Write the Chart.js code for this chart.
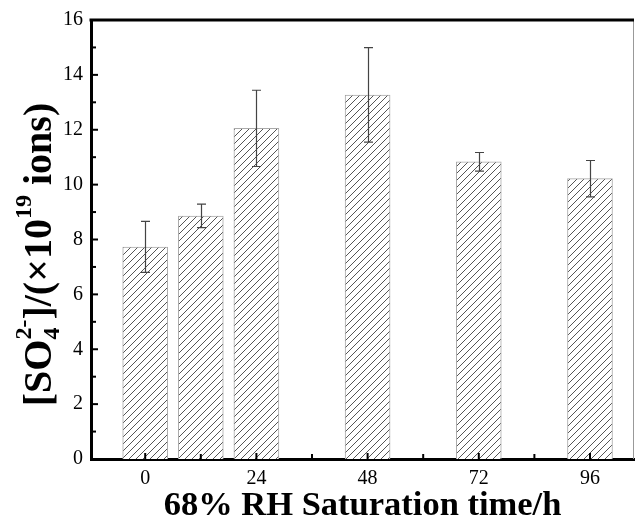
<!DOCTYPE html>
<html>
<head>
<meta charset="utf-8">
<script src="https://cdn.jsdelivr.net/npm/chart.js@4.4.1/dist/chart.umd.min.js"></script>
<style>
  html, body { margin: 0; padding: 0; background: #fff; }
</style>
</head>
<body>
<canvas id="chart" width="635" height="521"></canvas>
<script>
// saturation time (h) and sulfate amount (x10^19 ions)
const hours = [0, 12, 24, 48, 72, 96];
const sulfate = [7.72, 8.85, 12.05, 13.26, 10.83, 10.22];
const errLow = [6.80, 8.43, 10.66, 11.55, 10.49, 9.55];
const errHigh = [8.66, 9.29, 13.44, 14.99, 11.17, 10.88];
const xTickValues = [0, 12, 24, 36, 48, 60, 72, 84, 96];
const xLabelValues = [0, 24, 48, 72, 96];
const yTickValues = [0, 1, 2, 3, 4, 5, 6, 7, 8, 9, 10, 11, 12, 13, 14, 15, 16];
const yLabelValues = [0, 2, 4, 6, 8, 10, 12, 14, 16];

const SERIF = '"Liberation Serif", "Times New Roman", serif';

function makeHatch() {
    const size = 7;
    const p = document.createElement('canvas');
    p.width = size;
    p.height = size;
    const g = p.getContext('2d');
    g.fillStyle = '#fff';
    g.fillRect(0, 0, size, size);
    g.strokeStyle = '#555';
    g.lineWidth = 1;
    g.beginPath();
    g.moveTo(-1, size + 1);
    g.lineTo(size + 1, -1);
    g.moveTo(-1, 1);
    g.lineTo(1, -1);
    g.moveTo(size - 1, size + 1);
    g.lineTo(size + 1, size - 1);
    g.stroke();
    return document.getElementById('chart').getContext('2d').createPattern(p, 'repeat');
}

// error bars, inside ticks and the top/right frame
const extras = {
    id: 'extras',
    afterDatasetsDraw(chart) {
        const ctx = chart.ctx;
        const x = chart.scales.x, y = chart.scales.y;
        const area = chart.chartArea;
        ctx.save();

        ctx.strokeStyle = '#444';
        ctx.lineWidth = 1.2;
        hours.forEach((h, i) => {
            const px = Math.round(x.getPixelForValue(h)) + 0.5;
            const top = y.getPixelForValue(errHigh[i]);
            const bot = y.getPixelForValue(errLow[i]);
            ctx.beginPath();
            ctx.moveTo(px, top);
            ctx.lineTo(px, bot);
            ctx.moveTo(px - 4.5, top);
            ctx.lineTo(px + 4.5, top);
            ctx.moveTo(px - 4.5, bot);
            ctx.lineTo(px + 4.5, bot);
            ctx.stroke();
        });

        ctx.strokeStyle = '#000';
        ctx.lineWidth = 2;
        yTickValues.forEach(v => {
            const py = y.getPixelForValue(v);
            const len = yLabelValues.includes(v) ? 7 : 5;
            ctx.beginPath();
            ctx.moveTo(area.left, py);
            ctx.lineTo(area.left + len, py);
            ctx.stroke();
        });
        xTickValues.forEach(v => {
            const px = x.getPixelForValue(v);
            const len = xLabelValues.includes(v) ? 6 : 5;
            ctx.beginPath();
            ctx.moveTo(px, area.bottom);
            ctx.lineTo(px, area.bottom - len);
            ctx.stroke();
        });

        ctx.strokeStyle = '#999';
        ctx.lineWidth = 1;
        ctx.beginPath();
        ctx.moveTo(area.right - 0.5, area.top);
        ctx.lineTo(area.right - 0.5, area.bottom);
        ctx.stroke();

        ctx.strokeStyle = '#000';
        ctx.lineWidth = 3;
        ctx.beginPath();
        ctx.moveTo(area.left - 1.5, area.top);
        ctx.lineTo(area.right, area.top);
        ctx.stroke();
        ctx.restore();
    },
    afterDraw(chart) {
        // y title with sub- and superscripts
        const ctx = chart.ctx;
        const area = chart.chartArea;
        const big = 'bold 40px ' + SERIF;
        const small = 'bold 24px ' + SERIF;
        const parts = [
            { t: '[SO', f: big, dy: 0 },
            { t: '4', f: small, dy: 8, stack: true },
            { t: '2-', f: small, dy: -20 },
            { t: ']/(\u00d710', f: big, dy: 0 },
            { t: '19', f: small, dy: -20 },
            { t: ' ions)', f: big, dy: 0 }
        ];
        ctx.save();
        let total = 0;
        parts.forEach(p => {
            ctx.font = p.f;
            p.w = ctx.measureText(p.t).width;
        });
        for (let i = 0; i < parts.length; i++) {
            const p = parts[i];
            if (p.stack) {
                total += Math.max(p.w, parts[i + 1].w);
                i++;
            } else {
                total += p.w;
            }
        }
        ctx.translate(51, (area.top + area.bottom) / 2 + 15);
        ctx.rotate(-Math.PI / 2);
        ctx.fillStyle = '#000';
        ctx.textBaseline = 'alphabetic';
        ctx.textAlign = 'left';
        let cx = -total / 2;
        for (let i = 0; i < parts.length; i++) {
            const p = parts[i];
            ctx.font = p.f;
            ctx.fillText(p.t, cx, p.dy);
            if (p.stack) {
                const n = parts[i + 1];
                ctx.font = n.f;
                ctx.fillText(n.t, cx, n.dy);
                cx += Math.max(p.w, n.w);
                i++;
            } else {
                cx += p.w;
            }
        }
        ctx.restore();
    }
};

new Chart(document.getElementById('chart'), {
    type: 'bar',
    data: {
        datasets: [{
            data: hours.map((h, i) => ({ x: h, y: sulfate[i] })),
            backgroundColor: makeHatch(),
            borderColor: '#aaa',
            borderWidth: 1,
            barThickness: 45
        }]
    },
    options: {
        responsive: false,
        animation: false,
        layout: { padding: { top: 19, right: 1, left: 0, bottom: 0 } },
        plugins: {
            legend: { display: false },
            tooltip: { enabled: false }
        },
        scales: {
            x: {
                type: 'linear',
                offset: false,
                min: -11.7,
                max: 105.5,
                afterBuildTicks: s => { s.ticks = xTickValues.map(v => ({ value: v })); },
                afterFit: s => { s.height = 62; },
                grid: { display: false, drawTicks: false },
                border: { display: true, color: '#000', width: 3 },
                ticks: {
                    color: '#000',
                    padding: 8,
                    maxRotation: 0,
                    autoSkip: false,
                    font: { family: SERIF, size: 20 },
                    callback: v => xLabelValues.includes(v) ? String(v) : ''
                },
                title: {
                    display: true,
                    text: '68% RH Saturation time/h',
                    color: '#000',
                    font: { family: SERIF, size: 34.5, weight: 'bold', lineHeight: 1 },
                    padding: { top: 0, bottom: -2 }
                }
            },
            y: {
                min: 0,
                max: 16,
                afterBuildTicks: s => { s.ticks = yTickValues.map(v => ({ value: v })); },
                afterFit: s => { s.width = 91; },
                grid: { display: false, drawTicks: false },
                border: { display: true, color: '#000', width: 3 },
                ticks: {
                    color: '#000',
                    padding: 8,
                    autoSkip: false,
                    font: { family: SERIF, size: 20 },
                    callback: v => yLabelValues.includes(v) ? String(v) : ''
                }
            }
        }
    },
    plugins: [extras]
});
</script>
</body>
</html>
